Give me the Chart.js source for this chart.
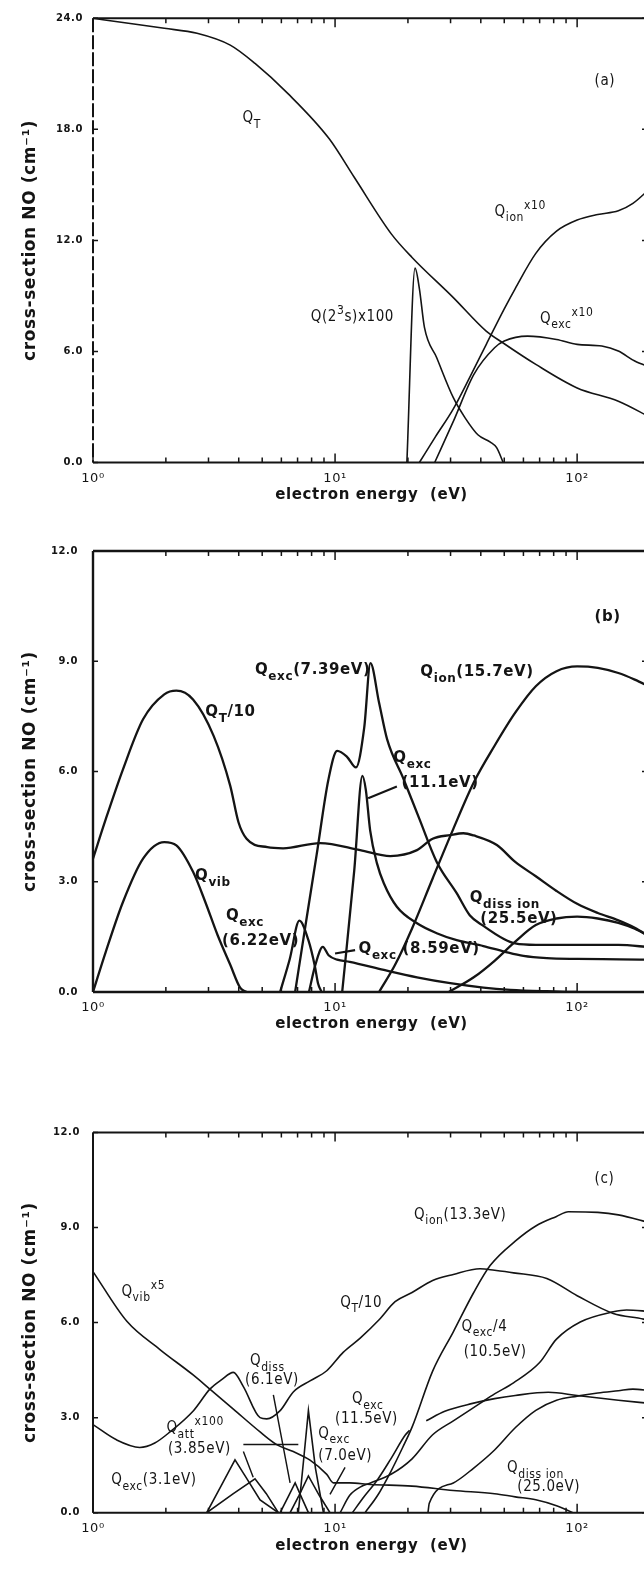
<!DOCTYPE html>
<html>
<head>
<meta charset="utf-8">
<script src="https://cdn.jsdelivr.net/npm/chart.js@4.4.1/dist/chart.umd.min.js"></script>
<style>
  html, body { margin: 0; padding: 0; background: #fff; overflow: hidden; }
  body { width: 644px; height: 1594px; position: relative; }
  canvas { position: absolute; left: 0; }
</style>
</head>
<body>
<canvas id="panelA" width="652" height="520" style="top:0"></canvas>
<canvas id="panelB" width="652" height="540" style="top:520px"></canvas>
<canvas id="panelC" width="652" height="534" style="top:1060px"></canvas>
<script>
// ---- (a) energies in eV, cross-sections in cm^-1 ----
const eTotA = [1, 1.33, 1.97, 2.69, 3.69, 4.67, 6.39, 9.46, 12.0, 17.1, 20.8, 30.8, 42.1, 49.3, 67.5, 100, 148, 200];
const qTotA = [24.0, 23.77, 23.46, 23.19, 22.55, 21.56, 19.93, 17.49, 15.41, 12.34, 11.08, 8.91, 7.1, 6.47, 5.3, 4.03, 3.31, 2.45];
const eMetA = [19.8, 21.4, 22.3, 23.4, 26.3, 30.8, 34.5, 38.9, 43.8, 46.5, 49.5];
const qMetA = [0, 10.5, 9.4, 7.3, 5.66, 3.5, 2.4, 1.5, 1.1, 0.8, 0];
const eIonA = [22.3, 26, 30.8, 36, 42.2, 50, 55.5, 67.5, 82.2, 100, 121.7, 148, 170, 200];
const qIonA = [0, 1.4, 2.9, 4.6, 6.4, 8.3, 9.4, 11.3, 12.5, 13.1, 13.4, 13.6, 14.0, 14.8];
const eExcA = [25.8, 30.8, 37.4, 45.6, 50, 62.4, 82.2, 100, 126.5, 148, 173, 200];
const qExcA = [0, 2.22, 4.75, 6.2, 6.56, 6.83, 6.65, 6.38, 6.29, 6.02, 5.48, 5.15];

// ---- (b) ----
const eTotB = [1, 1.13, 1.33, 1.61, 1.97, 2.21, 2.59, 3.15, 3.69, 3.99, 4.31, 5.25, 6.1, 8.67, 12.7, 16.9, 21.8, 25.3, 29.9, 33.9, 37.4, 46.6, 55.5, 67.5, 82.2, 100, 121.7, 148, 173, 200];
const qTotB = [3.63, 4.71, 6.06, 7.42, 8.1, 8.2, 7.96, 6.97, 5.61, 4.62, 4.17, 3.94, 3.91, 4.05, 3.86, 3.7, 3.86, 4.17, 4.27, 4.32, 4.26, 4.0, 3.54, 3.15, 2.75, 2.4, 2.15, 1.95, 1.75, 1.5];
const eVibB = [1, 1.13, 1.33, 1.61, 1.97, 2.21, 2.59, 2.91, 3.27, 3.69, 4.06, 4.31];
const qVibB = [0, 1.1, 2.45, 3.63, 4.08, 3.99, 3.27, 2.45, 1.55, 0.74, 0.11, 0];
const e622B = [5.93, 6.5, 7.12, 7.76, 8.26, 8.5, 8.8];
const q622B = [0, 0.9, 1.94, 1.41, 0.69, 0.24, 0];
const e739B = [6.84, 7.6, 8.4, 9.38, 10.2, 11.2, 12.2, 13.2, 14.0, 15.2, 16.4, 19.2, 22.3, 26.3, 31.8, 36, 41, 49.6, 55.5, 67.5, 100, 148, 200];
const q739B = [0, 1.94, 3.75, 5.77, 6.56, 6.4, 6.11, 7.2, 8.95, 7.87, 6.88, 5.79, 4.71, 3.54, 2.69, 2.09, 1.8, 1.45, 1.32, 1.28, 1.28, 1.28, 1.22];
const e859B = [7.8, 8.3, 8.9, 9.4, 10.2, 11.5, 15.9, 21.8, 29.9, 41, 53, 75, 100];
const q859B = [0, 0.75, 1.23, 1.0, 0.88, 0.82, 0.6, 0.4, 0.24, 0.12, 0.06, 0.02, 0];
const e111B = [10.7, 12.0, 12.97, 13.4, 13.96, 14.9, 15.9, 18, 21.8, 26.3, 31.8, 41, 50, 60, 75, 100, 150, 200];
const q111B = [0, 3.3, 5.88, 5.5, 4.4, 3.5, 2.96, 2.32, 1.87, 1.6, 1.41, 1.25, 1.1, 0.98, 0.92, 0.9, 0.89, 0.88];
const eIonB = [15.2, 17.7, 20.8, 25.3, 30.8, 37.4, 45.6, 55.5, 67.5, 82.2, 100, 121.7, 148, 173, 200];
const qIonB = [0, 0.74, 1.73, 3.09, 4.44, 5.7, 6.7, 7.6, 8.32, 8.73, 8.86, 8.82, 8.68, 8.5, 8.3];
const eDisB = [29.5, 37.4, 45.6, 55.5, 67.5, 82.2, 100, 121.7, 148, 173, 200];
const qDisB = [0, 0.4, 0.85, 1.37, 1.82, 2.0, 2.05, 2.0, 1.88, 1.72, 1.5];

// ---- (c) ----
const eTotC = [1, 1.25, 1.56, 1.8, 2.08, 2.6, 3.04, 3.4, 3.8, 4.18, 4.9, 5.22, 5.93, 6.72, 7.88, 9.24, 10.8, 12.7, 15.2, 17.7, 20.8, 25.3, 30.8, 39.7, 45.6, 54.6, 74.9, 100, 141, 188, 200];
const qTotC = [2.78, 2.3, 2.06, 2.2, 2.55, 3.22, 3.9, 4.2, 4.43, 3.98, 3.0, 2.96, 3.22, 3.81, 4.16, 4.48, 5.06, 5.51, 6.09, 6.66, 6.95, 7.33, 7.52, 7.7, 7.65, 7.57, 7.39, 6.85, 6.29, 6.11, 6.05];
const eVibC = [1, 1.38, 1.89, 2.6, 3.04, 3.8, 4.9, 5.74, 6.72, 7.88, 9.24, 9.84, 11.5, 14, 20.8, 30.8, 45.6, 55.5, 67.5, 82.2, 96];
const qVibC = [7.61, 6.04, 5.15, 4.34, 3.9, 3.27, 2.55, 2.15, 1.93, 1.66, 1.21, 0.94, 0.94, 0.89, 0.84, 0.7, 0.6, 0.5, 0.41, 0.22, 0];
const eExc31C = [2.95, 3.4, 3.86, 4.3, 4.9, 5.83];
const qExc31C = [0, 0.88, 1.67, 1.1, 0.4, 0];
const eAttC = [2.95, 3.8, 4.67, 5.2, 5.83, 6.52, 7.1, 7.76, 8.6, 9.53];
const qAttC = [0, 0.6, 1.07, 0.6, 0, 0, 0.55, 1.16, 0.55, 0];
const eDissC = [5.93, 6.4, 6.84, 7.3, 7.76];
const qDissC = [0, 0.5, 0.94, 0.45, 0];
const eExc70C = [7.05, 7.4, 7.76, 8.3, 8.95];
const qExc70C = [0, 1.6, 3.22, 1.4, 0];
const eExc115C = [11.8, 13, 15, 17, 19.5, 20.3, 21.5, 23.8, 28.4, 37, 45.6, 55.5, 76, 100, 148, 200];
const qExc115C = [0, 0.45, 1.05, 1.7, 2.45, 2.6, null, 2.9, 3.2, 3.45, 3.6, 3.7, 3.8, 3.7, 3.55, 3.45];
const eIonC = [13.3, 15, 17, 19, 20.8, 25.3, 30.8, 37.4, 43.7, 55.5, 67.5, 82.2, 92, 121.7, 148, 200];
const qIonC = [0, 0.55, 1.3, 2.05, 2.7, 4.47, 5.71, 6.95, 7.8, 8.57, 9.05, 9.35, 9.5, 9.48, 9.4, 9.15];
const eExc105C = [10.5, 11.5, 13, 14, 17.1, 20.8, 25.3, 30.8, 39.7, 45.6, 54.6, 70, 82, 103, 141, 160, 200];
const qExc105C = [0, 0.55, 0.85, 0.94, 1.22, 1.7, 2.46, 2.9, 3.45, 3.75, 4.1, 4.74, 5.47, 6.02, 6.34, 6.4, 6.35];
const eDisC = [24.2, 24.5, 30.8, 37.4, 45.6, 55.5, 67.5, 82.2, 100, 121.7, 148, 170, 200];
const qDisC = [0, 0.3, 0.94, 1.41, 1.98, 2.68, 3.23, 3.55, 3.68, 3.78, 3.85, 3.9, 3.85];

// axis tick values
const DECADES = [1, 10, 100];
const MINOR = [2, 3, 4, 5, 6, 7, 8, 9, 20, 30, 40, 50, 60, 70, 80, 90];
const SUPS = '⁰¹²';
const INK = '#141414';

function pts(xs, ys) {
    return xs.map((x, i) => ({ x, y: ys[i] }));
}

// text with _{sub} and ^{sup} runs, drawn left to right from the baseline point
function drawRich(ctx, px, py, text, f) {
    const re = /_\{([^}]*)\}|\^\{([^}]*)\}|([^_^]+)/g;
    let cx = px, m;
    while ((m = re.exec(text))) {
        const sub = m[1] !== undefined, sup = m[2] !== undefined;
        const str = sub ? m[1] : sup ? m[2] : m[3];
        const dy = sub ? f.size * 0.38 : sup ? -f.size * 0.45 : 0;
        ctx.font = `${f.weight} ${sub || sup ? f.size - 3 : f.size}px ${f.family}`;
        ctx.fillText(str, cx, py + dy);
        cx += ctx.measureText(str).width;
    }
}

// box, inward ticks, leader lines and curve labels
const decoPlugin = {
    id: 'deco',
    beforeLayout(chart) { chart.ctx.letterSpacing = '0.6px'; },
    beforeDraw(chart) { chart.ctx.letterSpacing = '0.6px'; },
    afterDatasetsDraw(chart, args, o) {
        const { ctx, chartArea: a, scales: { x, y } } = chart;
        ctx.save();
        ctx.strokeStyle = INK;
        ctx.fillStyle = INK;
        ctx.lineWidth = o.frameWidth;
        ctx.beginPath();
        ctx.moveTo(a.left, a.top); ctx.lineTo(a.right, a.top);
        ctx.moveTo(a.left, a.bottom); ctx.lineTo(a.right, a.bottom);
        ctx.moveTo(a.right, a.top); ctx.lineTo(a.right, a.bottom);
        ctx.stroke();
        ctx.setLineDash(o.leftDash || []);
        ctx.beginPath();
        ctx.moveTo(a.left, a.top); ctx.lineTo(a.left, a.bottom);
        ctx.stroke();
        ctx.setLineDash([]);

        ctx.lineWidth = 1.5;
        ctx.beginPath();
        DECADES.concat(MINOR).forEach(v => {
            const px = x.getPixelForValue(v);
            const len = DECADES.includes(v) ? 9 : 5;
            ctx.moveTo(px, a.bottom); ctx.lineTo(px, a.bottom - len);
            ctx.moveTo(px, a.top); ctx.lineTo(px, a.top + len);
        });
        y.ticks.forEach(t => {
            const py = y.getPixelForValue(t.value);
            ctx.moveTo(a.left, py); ctx.lineTo(a.left + 5, py);
            ctx.moveTo(a.right, py); ctx.lineTo(a.right - 8, py);
        });
        ctx.stroke();

        ctx.lineWidth = o.leaderWidth;
        ctx.beginPath();
        (o.leaders || []).forEach(([p, q]) => {
            ctx.moveTo(x.getPixelForValue(p[0]), y.getPixelForValue(p[1]));
            ctx.lineTo(x.getPixelForValue(q[0]), y.getPixelForValue(q[1]));
        });
        ctx.stroke();

        ctx.textAlign = 'left';
        ctx.textBaseline = 'alphabetic';
        (o.labels || []).forEach(([e, v, txt]) => {
            drawRich(ctx, x.getPixelForValue(e), y.getPixelForValue(v), txt, o.font);
        });
        ctx.restore();
    }
};

function makePanel(id, p) {
    const datasets = p.series.map(s => ({
        data: pts(s.e, s.q),
        borderColor: INK,
        borderWidth: p.lineWidth,
        pointRadius: 0,
        fill: false,
        spanGaps: false,
        cubicInterpolationMode: s.sharp ? 'default' : 'monotone',
        tension: 0
    }));
    return new Chart(document.getElementById(id), {
        type: 'line',
        data: { datasets },
        options: {
            responsive: false,
            animation: false,
            events: [],
            layout: { padding: { top: p.top, right: 2, left: 0, bottom: 0 } },
            plugins: {
                legend: { display: false },
                tooltip: { enabled: false },
                deco: {
                    frameWidth: p.frameWidth,
                    leaderWidth: p.lineWidth * 0.9,
                    leftDash: p.leftDash,
                    labels: p.labels,
                    leaders: p.leaders,
                    font: p.font
                }
            },
            scales: {
                x: {
                    type: 'logarithmic',
                    min: 1,
                    max: 200,
                    grid: { display: false, drawTicks: false },
                    border: { display: false },
                    afterBuildTicks: s => { s.ticks = DECADES.map(v => ({ value: v })); },
                    afterFit: s => { s.height = p.xAxisHeight; },
                    ticks: {
                        autoSkip: false,
                        maxRotation: 0,
                        padding: 8,
                        color: INK,
                        font: { family: '"DejaVu Sans"', size: 13 },
                        callback: v => '10' + SUPS[Math.round(Math.log10(v))]
                    },
                    title: {
                        display: true,
                        text: 'electron energy  (eV)',
                        color: INK,
                        font: { family: '"DejaVu Sans"', size: 15, weight: 'bold' },
                        padding: { top: 0, bottom: p.xTitlePad }
                    }
                },
                y: {
                    min: 0,
                    max: p.ymax,
                    grid: { display: false, drawTicks: false },
                    border: { display: false },
                    afterFit: s => { s.width = 93; },
                    ticks: {
                        stepSize: p.ystep,
                        padding: p.yTickPad,
                        color: INK,
                        font: { family: '"DejaVu Sans"', size: 10, weight: 'bold' },
                        callback: v => v.toFixed(1)
                    },
                    title: {
                        display: true,
                        text: 'cross-section NO (cm⁻¹)',
                        color: INK,
                        font: { family: '"DejaVu Sans"', size: 17, weight: 'bold' },
                        padding: { top: 20, bottom: 0 }
                    }
                }
            }
        },
        plugins: [decoPlugin]
    });
}

const plainFont = { family: '"DejaVu Sans Condensed", "DejaVu Sans"', size: 15, weight: 'normal' };

makePanel('panelA', {
    top: 18.3, xAxisHeight: 57.5, xTitlePad: 15.5, yTickPad: 10,
    ymax: 24, ystep: 6, lineWidth: 1.6, frameWidth: 2, leftDash: [14, 3],
    font: plainFont,
    series: [
        { e: eTotA, q: qTotA },
        { e: eMetA, q: qMetA },
        { e: eIonA, q: qIonA },
        { e: eExcA, q: qExcA }
    ],
    labels: [
        [4.15, 18.4, 'Q_{T}'],
        [7.93, 7.65, 'Q(2^{3}s)x100'],
        [45.6, 13.34, 'Q_{ion}^{x10}'],
        [70.2, 7.55, 'Q_{exc}^{x10}'],
        [118, 20.4, '(a)']
    ],
    leaders: []
});

makePanel('panelB', {
    top: 31, xAxisHeight: 68, xTitlePad: 26.5, yTickPad: 15,
    ymax: 12, ystep: 3, lineWidth: 2.3, frameWidth: 2.4,
    font: { family: '"DejaVu Sans"', size: 15, weight: 'bold' },
    series: [
        { e: eTotB, q: qTotB },
        { e: eVibB, q: qVibB },
        { e: e622B, q: q622B },
        { e: e739B, q: q739B },
        { e: e859B, q: q859B },
        { e: e111B, q: q111B },
        { e: eIonB, q: qIonB },
        { e: eDisB, q: qDisB }
    ],
    labels: [
        [2.91, 7.5, 'Q_{T}/10'],
        [2.64, 3.04, 'Q_{vib}'],
        [3.54, 1.96, 'Q_{exc}'],
        [3.41, 1.28, '(6.22eV)'],
        [4.67, 8.64, 'Q_{exc}(7.39eV)'],
        [22.5, 8.59, 'Q_{ion}(15.7eV)'],
        [17.4, 6.25, 'Q_{exc}'],
        [18.8, 5.57, '(11.1eV)'],
        [36, 2.45, 'Q_{diss ion}'],
        [39.8, 1.87, '(25.5eV)'],
        [12.5, 1.06, 'Q_{exc} (8.59eV)'],
        [118, 10.1, '(b)']
    ],
    leaders: [
        [[18, 5.59], [13.7, 5.27]],
        [[12.1, 1.14], [10.0, 1.05]]
    ]
});

makePanel('panelC', {
    top: 72.5, xAxisHeight: 81.3, xTitlePad: 39.3, yTickPad: 13,
    ymax: 12, ystep: 3, lineWidth: 1.6, frameWidth: 2,
    font: plainFont,
    series: [
        { e: eTotC, q: qTotC },
        { e: eVibC, q: qVibC },
        { e: eExc31C, q: qExc31C, sharp: true },
        { e: eAttC, q: qAttC, sharp: true },
        { e: eDissC, q: qDissC, sharp: true },
        { e: eExc70C, q: qExc70C, sharp: true },
        { e: eExc115C, q: qExc115C },
        { e: eIonC, q: qIonC },
        { e: eExc105C, q: qExc105C },
        { e: eDisC, q: qDisC }
    ],
    labels: [
        [118, 10.4, '(c)'],
        [21.2, 9.28, 'Q_{ion}(13.3eV)'],
        [1.31, 6.85, 'Q_{vib}^{x5}'],
        [10.5, 6.5, 'Q_{T}/10'],
        [33.3, 5.75, 'Q_{exc}/4'],
        [34, 4.94, '(10.5eV)'],
        [4.45, 4.66, 'Q_{diss}'],
        [4.25, 4.07, '(6.1eV)'],
        [11.75, 3.46, 'Q_{exc}'],
        [10, 2.84, '(11.5eV)'],
        [2.01, 2.55, 'Q_{att}^{x100}'],
        [2.04, 1.88, '(3.85eV)'],
        [8.53, 2.37, 'Q_{exc}'],
        [8.53, 1.66, '(7.0eV)'],
        [1.19, 0.9, 'Q_{exc}(3.1eV)'],
        [51.3, 1.27, 'Q_{diss ion}'],
        [56.6, 0.7, '(25.0eV)']
    ],
    leaders: [
        [[4.18, 1.93], [4.59, 1.12]],
        [[4.18, 2.15], [7.05, 2.15]],
        [[5.56, 3.72], [6.52, 0.94]],
        [[11.0, 1.43], [9.53, 0.58]]
    ]
});
</script>
</body>
</html>
